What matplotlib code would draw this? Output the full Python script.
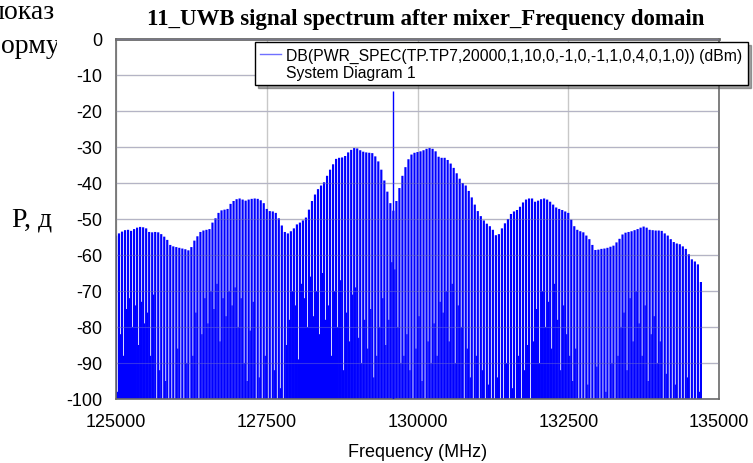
import numpy as np
import matplotlib.pyplot as plt
from matplotlib.lines import Line2D
from matplotlib.transforms import Bbox, TransformedBbox

plt.rcParams['font.family'] = ['Liberation Sans', 'DejaVu Sans']
plt.rcParams['axes.unicode_minus'] = False

# spectral lines, one every 50 MHz from 125000 to 134700
freq_start = 125000
freq_stop = 134700
freq_step = 50

# level on top of each line (dBm)
peak_db = [
    -54.6, -54.0, -53.5, -53.1, -53.0, -53.3, -52.8, -52.4, -52.2, -52.3,
    -52.6, -53.6, -53.7, -53.6, -53.7, -54.2, -54.9, -55.8, -57.2, -57.6,
    -57.8, -58.0, -58.2, -58.4, -58.7, -57.8, -56.0, -54.8, -53.6, -53.2,
    -53.0, -52.8, -51.0, -49.8, -48.3, -47.6, -47.4, -47.2, -45.8, -45.0,
    -44.5, -44.3, -44.6, -44.9, -44.6, -44.4, -44.3, -44.4, -44.8, -45.6,
    -47.2, -47.8, -47.9, -48.3, -49.8, -51.8, -53.6, -54.0, -53.4, -52.6,
    -51.5, -51.0, -50.4, -49.6, -47.4, -45.0, -43.2, -41.7, -40.7, -39.8,
    -38.0, -36.3, -34.8, -33.3, -33.0, -32.9, -32.5, -31.5, -30.8, -30.3,
    -30.4, -30.9, -31.3, -31.5, -31.6, -31.7, -32.6, -34.0, -36.3, -39.3,
    -42.4, -45.6, -47.7, -45.0, -41.4, -38.0, -35.6, -33.4, -32.1, -31.6,
    -31.4, -31.2, -30.9, -30.5, -30.3, -30.5, -31.2, -32.7, -33.0, -33.0,
    -33.6, -34.6, -35.8, -37.3, -38.8, -40.0, -40.7, -42.2, -44.0, -46.0,
    -47.8, -49.2, -50.4, -51.3, -52.0, -53.0, -54.5, -54.2, -52.6, -51.2,
    -50.0, -48.6, -47.9, -47.5, -46.6, -45.4, -44.6, -44.3, -44.3, -45.2,
    -44.9, -44.5, -44.3, -44.6, -45.2, -46.0, -46.8, -47.2, -47.5, -47.9,
    -48.3, -50.2, -52.0, -53.0, -53.4, -53.7, -54.6, -55.6, -57.2, -58.6,
    -58.5, -58.3, -58.2, -58.0, -57.7, -57.4, -56.5, -55.5, -54.3, -53.8,
    -53.6, -53.4, -53.1, -52.8, -52.4, -52.1, -52.4, -53.0, -53.1, -53.2,
    -53.2, -53.3, -54.0, -54.6, -55.6, -56.4, -56.8, -57.0, -57.6, -58.3,
    -59.8, -61.2, -61.8, -62.6, -67.5,
]

# depth of the notch between neighbouring lines (dBm)
null_db = [
    -98, -82, -88, -75, -72, -80, -74, -85, -73, -79,
    -76, -88, -71, -100, -92, -100, -95, -100, -100, -100,
    -86, -100, -100, -90, -100, -88, -76, -100, -82, -72,
    -79, -70, -75, -68, -84, -72, -77, -70, -74, -69,
    -80, -72, -90, -95, -81, -73, -100, -94, -100, -88,
    -100, -100, -92, -100, -97, -100, -85, -78, -70, -74,
    -89, -68, -72, -80, -66, -77, -70, -82, -65, -78,
    -74, -88, -70, -80, -67, -92, -76, -84, -71, -69,
    -83, -90, -78, -86, -75, -94, -88, -80, -72, -85,
    -78, -62, -64, -80, -90, -88, -82, -92, -100, -86,
    -77, -95, -100, -84, -90, -79, -88, -73, -76, -70,
    -84, -68, -90, -74, -80, -100, -86, -94, -100, -88,
    -100, -92, -100, -96, -100, -100, -94, -100, -100, -90,
    -100, -97, -100, -88, -100, -92, -85, -100, -84, -75,
    -90, -70, -80, -73, -86, -68, -78, -92, -74, -82,
    -88, -95, -86, -100, -100, -100, -96, -100, -100, -91,
    -100, -100, -98, -100, -90, -100, -88, -80, -76, -92,
    -72, -84, -70, -79, -88, -74, -95, -82, -77, -90,
    -84, -100, -93, -100, -100, -96, -100, -100, -100, -94,
    -100, -100, -100, -98,
]

spike_freq = 129590
spike_db = -14.5

x_ticks = [125000, 127500, 130000, 132500, 135000]
y_ticks = list(range(-100, 1, 10))

title = '11_UWB signal spectrum after mixer_Frequency domain'
legend_label = 'DB(PWR_SPEC(TP.TP7,20000,1,10,0,-1,0,-1,1,0,4,0,1,0)) (dBm)'
legend_sub = 'System Diagram 1'

freqs = np.arange(freq_start, freq_stop + 1, freq_step)
peaks = np.array(peak_db)
nulls = np.array(null_db)
floor = -100

fig = plt.figure(figsize=(7.53, 4.64), dpi=100)
ax = fig.add_axes([116/753, 1 - 400/464, (719 - 116)/753, 360/464])

blue = '#0000ff'
ax.bar(freqs, peaks - floor, bottom=floor, width=36, color=blue, linewidth=0,
       zorder=2, snap=False)
ax.bar(freqs[:-1] + freq_step/2, nulls - floor, bottom=floor, width=22, color=blue,
       linewidth=0, zorder=2, snap=False)
ax.vlines(spike_freq, floor, spike_db, color=blue, lw=1, zorder=3)

ax.set_xlim(125000, 135000)
ax.set_ylim(-100, 0)
ax.set_xticks(x_ticks)
ax.set_yticks(y_ticks)
ax.tick_params(length=0, labelsize=13, colors='black')
ax.tick_params(axis='y', pad=10)
ax.tick_params(axis='x', pad=10)
ax.grid(True, color='#c8c8c8', lw=1, zorder=0)
ax.set_axisbelow(True)
# faint grid seen through the filled spectrum
ax.hlines(y_ticks, 125000, 135000, color='#9090c0', lw=0.8, alpha=0.35, zorder=4)

for s in ax.spines.values():
    s.set_color('#6a6a6a')
    s.set_linewidth(1.2)
ax.spines['top'].set_linewidth(2)

ax.set_xlabel('Frequency (MHz)', fontsize=13, labelpad=9.5)

fig.text(426/753, 1 - 20/464, title, ha='center', va='center', fontsize=16.5,
         fontweight='bold', family='Liberation Serif')

h1 = Line2D([], [], color='#7070ff', lw=1)
h2 = Line2D([], [], color='none')
ax.legend([h1, h2], [legend_label, legend_sub], loc='upper left',
          bbox_to_anchor=(255/753, 1 - 43/464), bbox_transform=fig.transFigure,
          fancybox=False, shadow=True, edgecolor='black', framealpha=1,
          fontsize=11.3, handlelength=1.3, handletextpad=0.35, labelspacing=0.12,
          borderpad=0.35, borderaxespad=0)

# pieces of the surrounding document text, cut by the chart image
clip = TransformedBbox(Bbox.from_extents(0, 0, 57/753, 1), fig.transFigure)
for x0, y0, s in [(-11, 19, 'показ'), (-17, 53, 'форму'), (12, 227, 'Р, д')]:
    t = fig.text(x0/753, 1 - y0/464, s, fontsize=20, family='Liberation Serif',
                 va='baseline', ha='left')
    t.set_clip_box(clip)
    t.set_clip_on(True)

fig.savefig('out.png', dpi=100)
